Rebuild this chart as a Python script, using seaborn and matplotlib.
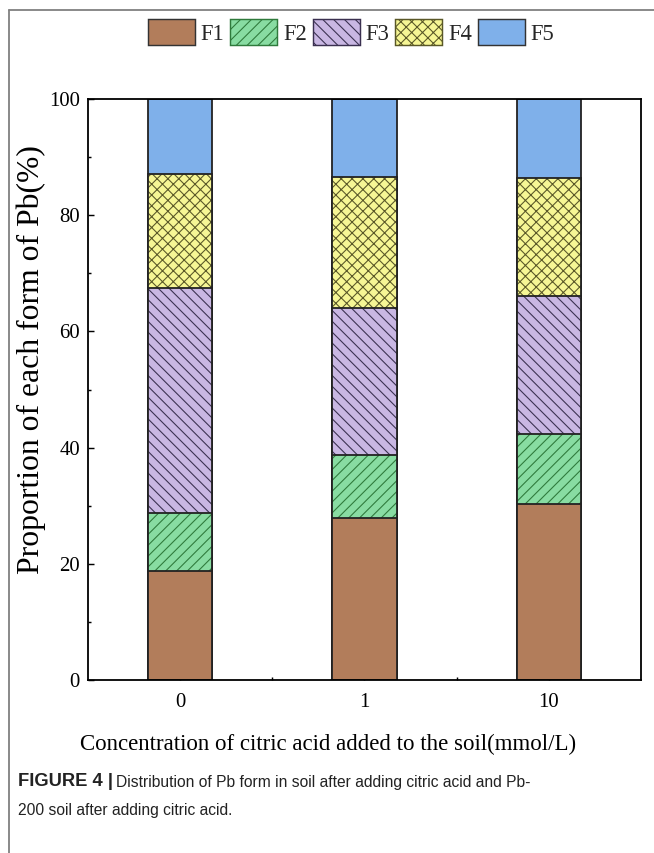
import matplotlib
matplotlib.use("Agg")
import numpy as np
import seaborn as sns
import matplotlib.pyplot as plt
import matplotlib.patches as mpatches
from matplotlib.lines import Line2D
from matplotlib.ticker import MultipleLocator, FixedLocator

# data (percent of each Pb form)
concentrations = ["0", "1", "10"]
forms = ["F1", "F2", "F3", "F4", "F5"]
f1 = [18.8, 27.9, 30.3]
f2 = [10.0, 10.9, 12.1]
f3 = [38.7, 25.3, 23.7]
f4 = [19.6, 22.4, 20.3]
f5 = [12.9, 13.5, 13.6]

face_colors = ["#B27D5B", "#88DCA2", "#C9B7E3", "#F6F695", "#7FB0EA"]
hatch_colors = ["#8A5A3C", "#2F7A3C", "#3A3050", "#5A5828", "#5B8CC8"]
hatches = ["", "////", "\\\\\\\\", "xxxx", ""]

DPI = 130
W, H = 654, 853

sns.set_theme(style="ticks")
plt.rcParams["font.family"] = ["Liberation Serif", "DejaVu Serif"]
plt.rcParams["hatch.linewidth"] = 0.6

fig = plt.figure(figsize=(W / DPI, H / DPI), dpi=DPI)
ax = fig.add_axes([88 / W, 1 - 680 / H, (641 - 88) / W, (680 - 99) / H])

values = np.array([f1, f2, f3, f4, f5])
tops = values.cumsum(axis=0)

# stacked bars: draw cumulative heights from the top segment down
for i in range(len(forms) - 1, -1, -1):
    sns.barplot(x=concentrations, y=tops[i], order=concentrations,
                color=face_colors[i], saturation=1, width=0.35,
                hatch=hatches[i], edgecolor=hatch_colors[i], linewidth=0,
                ax=ax, zorder=2)
    sns.barplot(x=concentrations, y=tops[i], order=concentrations,
                color="#222222", fill=False, width=0.35, linewidth=1.0,
                ax=ax, zorder=2)

ax.set_xlim(-0.5, 2.5)
ax.set_ylim(0, 100)
ax.yaxis.set_major_locator(MultipleLocator(20))
ax.yaxis.set_minor_locator(MultipleLocator(10))
ax.xaxis.set_minor_locator(FixedLocator([0.5, 1.5]))
ax.set_xticks([0, 1, 2])
ax.set_xticklabels(concentrations)

for sp in ax.spines.values():
    sp.set_visible(True)
    sp.set_linewidth(1.0)
    sp.set_color("black")
ax.tick_params(which="both", direction="in", top=False, right=False,
               width=0.8, colors="black", labelsize=11.5)
ax.tick_params(which="major", length=3.5)
ax.tick_params(which="minor", length=1.8)
ax.tick_params(axis="y", pad=4.5)
ax.tick_params(axis="x", pad=7)

ax.set_xlabel("Concentration of citric acid added to the soil(mmol/L)",
              fontsize=12.7, color="black")
ax.xaxis.set_label_coords(0.434, -0.092)
ax.set_ylabel("Proportion of each form of Pb(%)", fontsize=17.5,
              color="black")
ax.yaxis.set_label_coords(-0.076, 0.551)

handles = [mpatches.Patch(facecolor=face_colors[i], edgecolor=hatch_colors[i]
                          if hatches[i] else "#333333",
                          hatch=hatches[i], linewidth=0.8, label=forms[i])
           for i in range(len(forms))]
fig.legend(handles=handles, loc="center", ncol=5,
           bbox_to_anchor=(351 / W, 1 - 32 / H), frameon=False,
           fontsize=12.5, handlelength=2.1, handleheight=1.35,
           handletextpad=0.25, columnspacing=0.25, borderpad=0)

# page frame lines
fig.add_artist(Line2D([9 / W, 1], [1 - 10 / H, 1 - 10 / H],
                      transform=fig.transFigure, color="#808080", lw=1.0))
fig.add_artist(Line2D([9 / W, 9 / W], [0, 1 - 10 / H],
                      transform=fig.transFigure, color="#808080", lw=1.0))

# caption
cap_font = ["Liberation Sans", "DejaVu Sans"]
t1 = fig.text(18 / W, 1 - 782 / H, "FIGURE 4 |", family=cap_font,
              fontweight="bold", fontsize=10.2, va="center", color="#222222")
fig.canvas.draw()
bb = t1.get_window_extent()
fig.text((bb.x1 + 3) / W, 1 - 782 / H,
         "Distribution of Pb form in soil after adding citric acid and Pb-",
         family=cap_font, fontsize=8.7, va="center", color="#222222")
fig.text(18 / W, 1 - 810 / H, "200 soil after adding citric acid.",
         family=cap_font, fontsize=8.7, va="center", color="#222222")

fig.savefig("out.png", dpi=DPI)
